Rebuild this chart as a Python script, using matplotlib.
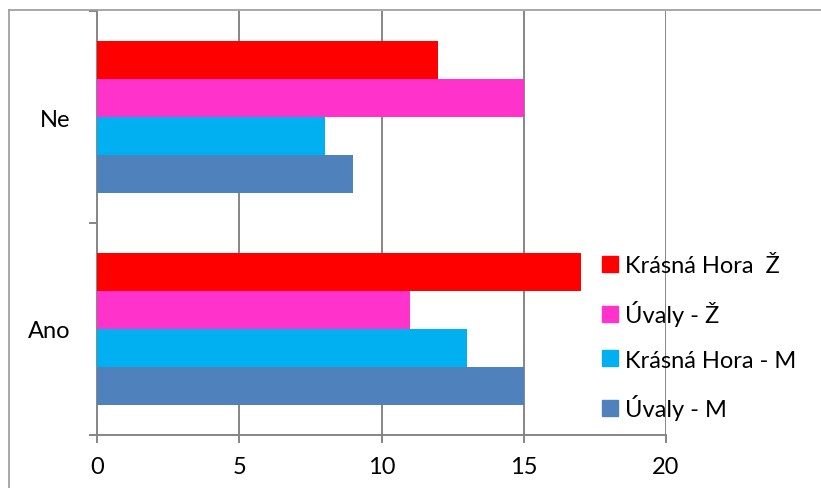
import matplotlib
matplotlib.use("Agg")
import matplotlib.pyplot as plt
from matplotlib.lines import Line2D
from matplotlib.patches import Patch
import numpy as np

categories = ["Ano", "Ne"]
series_names = ["Úvaly - M", "Krásná Hora - M", "Úvaly - Ž", "Krásná Hora  Ž"]
uvaly_m = [15, 9]
krasna_m = [13, 8]
uvaly_z = [11, 15]
krasna_z = [17, 12]
colors = ["#4F81BD", "#00B0F0", "#FF33CC", "#FF0000"]
xticks = [0, 5, 10, 15, 20]

plt.rcParams['font.family'] = ['Lato', 'DejaVu Sans']
W, H = 821, 489
fig = plt.figure(figsize=(W / 100, H / 100), dpi=100)
ax = fig.add_axes([97 / W, 53 / H, (666 - 97) / W, (436 - 12) / H])

grid_c = "#868686"
y = np.arange(len(categories))
h = 0.18
all_series = [uvaly_m, krasna_m, uvaly_z, krasna_z]
for i, (vals, c) in enumerate(zip(all_series, colors)):
    ax.barh(y + (i - 1.5) * h, vals, height=h, color=c, zorder=3)

ax.set_xlim(0, 20)
ax.set_ylim(-0.5, 1.5)
ax.set_xticks(xticks)
ax.set_xticklabels([str(t) for t in xticks])
ax.xaxis.grid(True, color=grid_c, linewidth=1.4, zorder=0)
ax.set_yticks([-0.5, 0.5, 1.5])
ax.set_yticklabels([])
ax.set_yticks(y, minor=True)
ax.set_yticklabels(categories, minor=True)
ax.tick_params(axis='y', which='minor', length=0, pad=19, labelsize=17)
ax.tick_params(axis='y', which='major', length=6, width=1.4, color=grid_c, direction='out')
ax.tick_params(axis='x', length=6, width=1.4, color=grid_c, pad=9, labelsize=17)
for s in ["top", "right"]:
    ax.spines[s].set_visible(False)
for s in ["left", "bottom"]:
    ax.spines[s].set_color(grid_c)
    ax.spines[s].set_linewidth(1.4)

# legend (top-to-bottom order)
handles = [Patch(color=colors[i]) for i in [3, 2, 1, 0]]
labels = [series_names[i] for i in [3, 2, 1, 0]]
leg = fig.legend(handles, labels, loc='upper left', bbox_to_anchor=(593 / W, 1 - 247 / H),
                 frameon=False, fontsize=17, handlelength=0.65, handleheight=0.65,
                 handletextpad=0.3, labelspacing=1.0, borderaxespad=0)

# chart outer border (top and left only visible)
fig.add_artist(Line2D([9 / W, 1], [1 - 11 / H, 1 - 11 / H], color="#9A9A9A", linewidth=1.2))
fig.add_artist(Line2D([9 / W, 9 / W], [0, 1 - 11 / H], color="#9A9A9A", linewidth=1.2))

fig.savefig("out.png", dpi=100)
